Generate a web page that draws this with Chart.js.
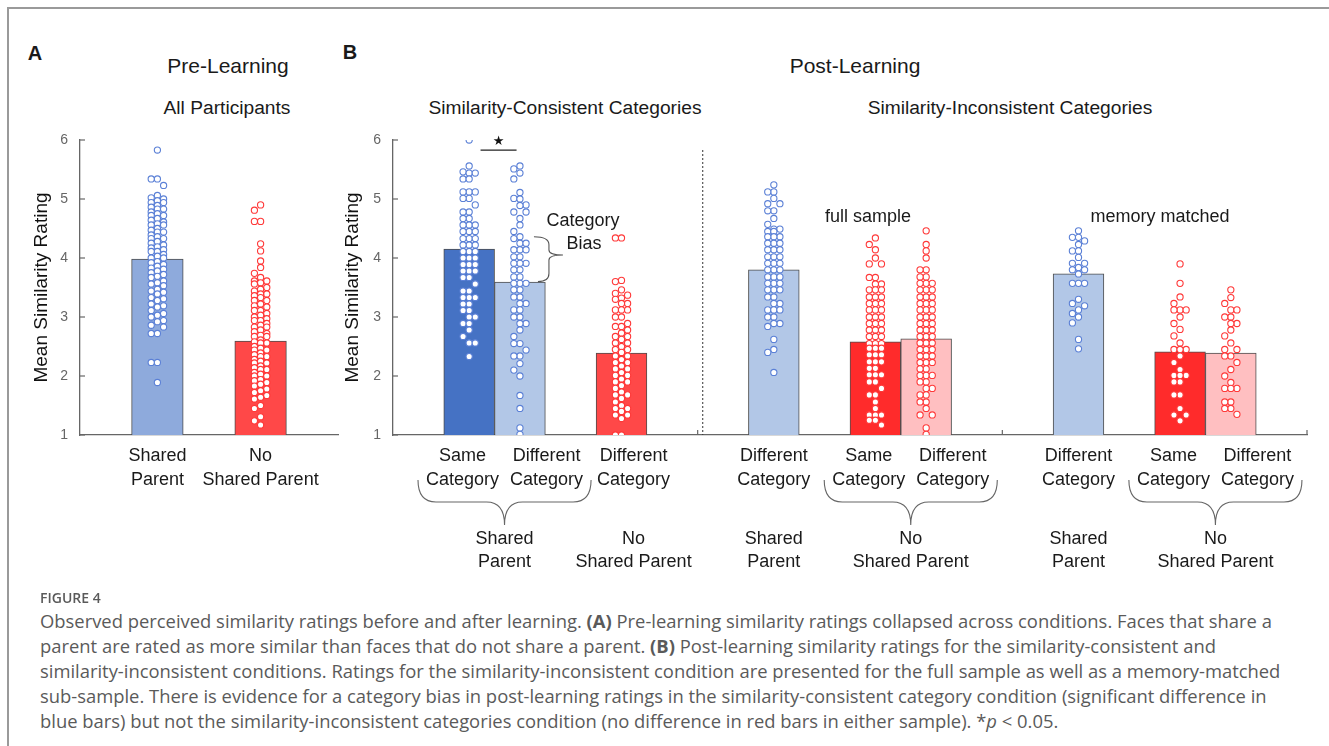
<!DOCTYPE html>
<html lang="en">
<head>
  <meta charset="UTF-8" />
  <title>Figure 4</title>
  <script src="https://cdn.jsdelivr.net/npm/chart.js"></script>
  <style>
    body { margin: 0; background: #fff; }
    #page {
      position: relative; width: 1329px; height: 746px; overflow: hidden;
      font-family: 'Liberation Sans', Arial, sans-serif; color: #1a1a1a;
    }
    .frame {
      position: absolute; left: 7px; top: 7px; width: 1340px; height: 760px;
      border-top: 2px solid #9a9a9a; border-left: 2px solid #9a9a9a;
    }
    .lbl { position: absolute; white-space: nowrap; transform: translate(-50%, -50%); line-height: 1; }
    .panel { font-weight: bold; font-size: 20px; }
    .title { font-size: 21px; }
    .sub { font-size: 19.2px; }
    .note { font-size: 18px; }
    canvas { position: absolute; }
    .cap-head {
      position: absolute; left: 40px; top: 590px; font-family: 'Open Sans', sans-serif;
      font-size: 14px; line-height: 16px; color: #5a5a5a; font-weight: 600;
    }
    .cap {
      position: absolute; left: 40px; top: 608px; font-family: 'Open Sans', sans-serif;
      font-size: 18.4px; line-height: 25px; color: #5a5a5a; white-space: nowrap;
    }
  </style>
</head>
<body>
<div id="page">
  <div class="frame"></div>

  <div class="lbl panel" style="left:35px; top:53px;">A</div>
  <div class="lbl panel" style="left:350px; top:52px;">B</div>
  <div class="lbl title" style="left:228px; top:65px;">Pre-Learning</div>
  <div class="lbl title" style="left:855px; top:65px;">Post-Learning</div>
  <div class="lbl sub" style="left:227px; top:108px;">All Participants</div>
  <div class="lbl sub" style="left:565px; top:108px;">Similarity-Consistent Categories</div>
  <div class="lbl sub" style="left:1010px; top:108px;">Similarity-Inconsistent Categories</div>

  <canvas id="chartA" width="345" height="480" style="left:0; top:110px;"></canvas>
  <canvas id="chartB" width="999" height="480" style="left:330px; top:110px;"></canvas>

  <div class="lbl note" style="left:868px; top:216px;">full sample</div>
  <div class="lbl note" style="left:1160px; top:216px;">memory matched</div>
  <div class="lbl note" style="left:583px; top:220px;">Category</div>
  <div class="lbl note" style="left:584px; top:243px;">Bias</div>

  <div class="cap-head">FIGURE 4</div>
  <div class="cap">
    <div>Observed perceived similarity ratings before and after learning. <b>(A)</b> Pre-learning similarity ratings collapsed across conditions. Faces that share a</div>
    <div>parent are rated as more similar than faces that do not share a parent. <b>(B)</b> Post-learning similarity ratings for the similarity-consistent and</div>
    <div>similarity-inconsistent conditions. Ratings for the similarity-inconsistent condition are presented for the full sample as well as a memory-matched</div>
    <div>sub-sample. There is evidence for a category bias in post-learning ratings in the similarity-consistent category condition (significant difference in</div>
    <div>blue bars) but not the similarity-inconsistent categories condition (no difference in red bars in either sample). *<i>p</i> &lt; 0.05.</div>
  </div>
</div>

<script>
  // ---- data ----
  const yTicks = [1, 2, 3, 4, 5, 6];

  // panel A: pre-learning
  const preLabels = ['', ['Shared', 'Parent'], '', ['No', 'Shared Parent'], ''];
  const preMeans = [null, 3.98, null, 2.59, null];
  const preShared = [5.83, 5.34, 5.34, 5.23, 5.06, 5.02, 5.0, 4.97, 4.94, 4.94, 4.89, 4.86, 4.83, 4.83,
    4.78, 4.75, 4.72, 4.72, 4.67, 4.64, 4.61, 4.58, 4.56, 4.56, 4.5, 4.47, 4.44, 4.44, 4.39, 4.36,
    4.33, 4.33, 4.28, 4.25, 4.22, 4.19, 4.17, 4.14, 4.11, 4.11, 4.06, 4.03, 4.0, 4.0, 3.94, 3.92,
    3.89, 3.86, 3.83, 3.81, 3.78, 3.75, 3.72, 3.69, 3.67, 3.61, 3.58, 3.56, 3.53, 3.47, 3.44, 3.42,
    3.39, 3.33, 3.31, 3.28, 3.22, 3.19, 3.17, 3.11, 3.06, 3.03, 3.0, 2.94, 2.92, 2.86, 2.83,
    2.72, 2.72, 2.23, 2.23, 1.89];
  const preNoShared = [4.9, 4.81, 4.62, 4.62, 4.24, 4.12, 3.95, 3.84, 3.74, 3.67, 3.61, 3.61, 3.58,
    3.56, 3.5, 3.47, 3.44, 3.39, 3.39, 3.36, 3.33, 3.28, 3.28, 3.22, 3.19, 3.17, 3.11, 3.11, 3.06,
    3.03, 3.0, 2.97, 2.94, 2.94, 2.89, 2.86, 2.83, 2.83, 2.78, 2.75, 2.72, 2.69, 2.67, 2.67, 2.61,
    2.58, 2.56, 2.56, 2.5, 2.47, 2.44, 2.44, 2.39, 2.36, 2.33, 2.33, 2.28, 2.25, 2.22, 2.22, 2.17,
    2.14, 2.11, 2.11, 2.06, 2.03, 2.0, 2.0, 1.94, 1.92, 1.89, 1.86, 1.83, 1.78, 1.75, 1.72, 1.67,
    1.64, 1.61, 1.5, 1.45, 1.31, 1.24, 1.17];

  // panel B: post-learning (18 slots, blanks are gaps)
  const postLabels = ['', ['Same', 'Category'], ['Different', 'Category'], '', ['Different', 'Category'], '',
    '', ['Different', 'Category'], '', ['Same', 'Category'], ['Different', 'Category'], '',
    '', ['Different', 'Category'], '', ['Same', 'Category'], ['Different', 'Category'], ''];
  const postMeans = [null, 4.15, 3.59, null, 2.39, null, null, 3.80, null, 2.58, 2.63, null,
    null, 3.73, null, 2.41, 2.39, null];
  const postGroups = [
    { bars: [1, 2], text: ['Shared', 'Parent'] },
    { bars: [4], text: ['No', 'Shared Parent'] },
    { bars: [7], text: ['Shared', 'Parent'] },
    { bars: [9, 10], text: ['No', 'Shared Parent'] },
    { bars: [13], text: ['Shared', 'Parent'] },
    { bars: [15, 16], text: ['No', 'Shared Parent'] }
  ];

  const consSame = [6.0, 5.56, 5.46, 5.44, 5.44, 5.34, 5.34, 5.12, 5.12, 5.12, 5.01, 5.01, 4.9, 4.78,
    4.78, 4.67, 4.67, 4.56, 4.56, 4.56, 4.45, 4.45, 4.45, 4.33, 4.33, 4.33, 4.22, 4.22, 4.22, 4.11,
    4.11, 4.11, 4.0, 4.0, 4.0, 3.89, 3.89, 3.89, 3.78, 3.78, 3.78, 3.67, 3.67, 3.56, 3.44, 3.44,
    3.33, 3.33, 3.33, 3.22, 3.22, 3.11, 3.11, 3.0, 3.0, 2.89, 2.89, 2.78, 2.67, 2.56, 2.56, 2.33];
  const consDiff = [5.56, 5.51, 5.44, 5.34, 5.11, 5.01, 5.0, 4.9, 4.89, 4.78, 4.78, 4.67, 4.56, 4.45,
    4.36, 4.33, 4.25, 4.25, 4.14, 4.14, 4.14, 4.02, 4.02, 3.91, 3.91, 3.91, 3.8, 3.8, 3.68, 3.68,
    3.57, 3.57, 3.57, 3.46, 3.46, 3.34, 3.34, 3.23, 3.23, 3.12, 3.12, 3.0, 3.0, 2.89, 2.89, 2.78,
    2.67, 2.55, 2.55, 2.44, 2.34, 2.34, 2.21, 2.1, 2.0, 1.67, 1.45, 1.12, 1.01];
  const consNoParent = [4.34, 4.34, 3.62, 3.6, 3.46, 3.4, 3.37, 3.32, 3.3, 3.23, 3.23, 3.12, 3.12, 3.12,
    3.0, 3.0, 2.89, 2.84, 2.84, 2.78, 2.73, 2.67, 2.67, 2.62, 2.56, 2.56, 2.5, 2.45, 2.45, 2.4, 2.34,
    2.34, 2.28, 2.23, 2.23, 2.17, 2.12, 2.12, 2.06, 2.01, 2.01, 1.95, 1.9, 1.9, 1.84, 1.79, 1.73,
    1.68, 1.68, 1.62, 1.56, 1.5, 1.45, 1.45, 1.4, 1.34, 1.34, 1.28, 1.0, 1.0];
  const fullShared = [5.24, 5.12, 5.12, 5.01, 4.92, 4.92, 4.8, 4.8, 4.67, 4.57, 4.49, 4.49, 4.45, 4.45,
    4.36, 4.36, 4.36, 4.25, 4.25, 4.25, 4.14, 4.14, 4.14, 4.02, 4.02, 4.02, 3.91, 3.91, 3.91, 3.8,
    3.8, 3.8, 3.68, 3.68, 3.68, 3.57, 3.57, 3.57, 3.46, 3.46, 3.46, 3.34, 3.34, 3.23, 3.23, 3.12,
    3.12, 3.12, 3.0, 3.0, 2.89, 2.89, 2.84, 2.62, 2.45, 2.4, 2.06];
  const fullSame = [4.34, 4.23, 4.14, 4.0, 3.9, 3.9, 3.67, 3.67, 3.56, 3.56, 3.46, 3.46, 3.46, 3.34,
    3.34, 3.34, 3.23, 3.23, 3.23, 3.12, 3.12, 3.12, 3.0, 3.0, 3.0, 2.89, 2.89, 2.89, 2.78, 2.78, 2.78,
    2.67, 2.67, 2.67, 2.55, 2.55, 2.55, 2.47, 2.47, 2.47, 2.36, 2.36, 2.36, 2.24, 2.24, 2.24, 2.13,
    2.13, 2.02, 2.02, 2.02, 1.9, 1.9, 1.79, 1.68, 1.68, 1.56, 1.45, 1.34, 1.34, 1.34, 1.25, 1.25, 1.17];
  const fullDiff = [4.46, 4.23, 4.12, 4.0, 3.8, 3.8, 3.68, 3.68, 3.57, 3.57, 3.57, 3.46, 3.46, 3.46,
    3.34, 3.34, 3.34, 3.23, 3.23, 3.23, 3.12, 3.12, 3.12, 3.0, 3.0, 3.0, 2.89, 2.89, 2.89, 2.78, 2.78,
    2.78, 2.67, 2.67, 2.67, 2.56, 2.56, 2.56, 2.45, 2.45, 2.45, 2.34, 2.34, 2.34, 2.23, 2.23, 2.23,
    2.12, 2.12, 2.01, 2.01, 2.01, 1.9, 1.9, 1.79, 1.79, 1.68, 1.68, 1.56, 1.56, 1.45, 1.34, 1.34,
    1.12, 1.01];
  const memShared = [4.46, 4.35, 4.35, 4.29, 4.23, 4.12, 4.12, 4.01, 3.91, 3.91, 3.84, 3.8, 3.8, 3.73,
    3.57, 3.57, 3.57, 3.3, 3.23, 3.19, 3.12, 3.06, 3.0, 2.9, 2.62, 2.46];
  const memSame = [3.9, 3.57, 3.34, 3.23, 3.12, 3.12, 3.12, 3.0, 2.89, 2.79, 2.68, 2.56, 2.45, 2.45,
    2.45, 2.34, 2.23, 2.11, 2.01, 2.01, 2.01, 1.9, 1.9, 1.68, 1.68, 1.45, 1.34, 1.34, 1.24];
  const memDiff = [3.46, 3.33, 3.23, 3.12, 3.12, 3.0, 3.0, 2.89, 2.89, 2.78, 2.68, 2.56, 2.45, 2.45,
    2.34, 2.34, 2.23, 2.11, 2.0, 1.89, 1.79, 1.79, 1.79, 1.56, 1.56, 1.45, 1.45, 1.35];

  // ---- styling ----
  const BLUE_A = '#8eaadc', BLUE_DARK = '#4572c4', BLUE_LIGHT = '#b2c7e7';
  const RED = '#ff4848', RED_BRIGHT = '#ff2b2b', PINK = '#ffbfc1';
  const DOT_BLUE = '#5b80d6', DOT_RED = '#ff3838';
  const labelFont = '18px "Liberation Sans", Arial, sans-serif';

  // pack dots of one bar into three narrow columns (beeswarm-ish)
  function swarm(values, slot) {
    const cols = [0, -1, 1];
    const last = {};
    return values.slice().sort((a, b) => b - a).map(v => {
      let best = 0, bestGap = -1;
      for (const c of cols) {
        const gap = last[c] === undefined ? Infinity : last[c] - v;
        if (gap >= 0.11) { best = c; break; }
        if (gap > bestGap) { best = c; bestGap = gap; }
      }
      last[best] = v;
      return { x: slot + best * 0.12, y: v };
    });
  }

  function dots(values, slot, color) {
    return {
      type: 'scatter', xAxisID: 'xd', data: swarm(values, slot), order: 0,
      pointRadius: 3.1, pointBorderWidth: 1.1,
      pointBackgroundColor: '#fff', pointBorderColor: color
    };
  }

  // spread two-line category labels apart so neighbours do not collide
  function labelCentres(chart) {
    const ctx = chart.ctx, x = chart.scales.x, labels = chart.data.labels;
    ctx.font = labelFont;
    const w = labels.map(l => Array.isArray(l) ? Math.max(...l.map(t => ctx.measureText(t).width)) : 0);
    const cx = labels.map((l, i) => x.getPixelForValue(i));
    for (let i = 0; i < labels.length - 1; i++) {
      if (w[i] && w[i + 1]) {
        const deficit = (w[i] + w[i + 1]) / 2 + 11 - (cx[i + 1] - cx[i]);
        if (deficit > 0) { cx[i] -= deficit * 0.2; cx[i + 1] += deficit * 0.8; i++; }
      }
    }
    let prev = -1;
    labels.forEach((l, i) => {
      if (!w[i]) return;
      if (prev >= 0 && i - prev > 1) {
        const minX = cx[prev] + w[prev] / 2 + 14 + w[i] / 2;
        if (cx[i] < minX) cx[i] = minX;
      }
      prev = i;
    });
    return labels.map((l, i) => ({ x: cx[i], w: w[i] }));
  }

  function brace(ctx, x0, x1, xc, yTop, yMid, yApex) {
    const r = 18;
    ctx.beginPath();
    ctx.moveTo(x0, yTop);
    ctx.quadraticCurveTo(x0, yMid, x0 + r, yMid);
    ctx.lineTo(xc - r, yMid);
    ctx.quadraticCurveTo(xc, yMid, xc, yApex);
    ctx.moveTo(x1, yTop);
    ctx.quadraticCurveTo(x1, yMid, x1 - r, yMid);
    ctx.lineTo(xc + r, yMid);
    ctx.quadraticCurveTo(xc, yMid, xc, yApex);
    ctx.stroke();
  }

  const figureMarks = {
    id: 'figureMarks',
    afterDraw(chart, args, opts) {
      const { ctx, chartArea: area, scales } = chart;
      const y = scales.y, xd = scales.xd;
      const pos = labelCentres(chart);
      ctx.save();

      // inner tick marks on the axes
      ctx.strokeStyle = '#666';
      ctx.lineWidth = 1.2;
      yTicks.forEach(v => {
        const py = y.getPixelForValue(v);
        ctx.beginPath(); ctx.moveTo(area.left, py); ctx.lineTo(area.left + 5, py); ctx.stroke();
      });
      (opts.xTicks || []).forEach(v => {
        const px = xd.getPixelForValue(v);
        ctx.beginPath(); ctx.moveTo(px, area.bottom); ctx.lineTo(px, area.bottom - 5); ctx.stroke();
      });

      // category labels under the bars
      ctx.fillStyle = '#1a1a1a';
      ctx.font = labelFont;
      ctx.textAlign = 'center';
      ctx.textBaseline = 'middle';
      chart.data.labels.forEach((l, i) => {
        if (!Array.isArray(l)) return;
        l.forEach((t, k) => ctx.fillText(t, pos[i].x, area.bottom + 21 + k * 24));
      });

      // parent-level groups with braces
      (opts.groups || []).forEach(g => {
        const a = g.bars[0], b = g.bars[g.bars.length - 1];
        let xc = pos[a].x;
        if (a !== b) {
          xc = (pos[a].x + pos[b].x) / 2;
          ctx.strokeStyle = '#666';
          ctx.lineWidth = 1.1;
          brace(ctx, pos[a].x - pos[a].w / 2 - 8, pos[b].x + pos[b].w / 2 + 8, xc,
            area.bottom + 45, area.bottom + 67, area.bottom + 90);
        }
        ctx.fillStyle = '#1a1a1a';
        g.text.forEach((t, k) => ctx.fillText(t, xc, area.bottom + 104 + k * 23));
      });

      // dotted separator between the two conditions
      if (opts.divider !== undefined) {
        const px = xd.getPixelForValue(opts.divider);
        ctx.strokeStyle = '#333';
        ctx.lineWidth = 1;
        ctx.setLineDash([2, 2]);
        ctx.beginPath(); ctx.moveTo(px, area.top + 10); ctx.lineTo(px, area.bottom); ctx.stroke();
        ctx.setLineDash([]);
      }

      // significance marker and category-bias bracket
      if (opts.sig) {
        const s = opts.sig;
        const mid = (xd.getPixelForValue(s.bars[0]) + xd.getPixelForValue(s.bars[1])) / 2 + 4;
        const py = y.getPixelForValue(s.level);
        ctx.strokeStyle = '#222';
        ctx.lineWidth = 1.3;
        ctx.beginPath(); ctx.moveTo(mid - 18, py); ctx.lineTo(mid + 18, py); ctx.stroke();
        ctx.fillStyle = '#111';
        ctx.font = '13px "DejaVu Sans", sans-serif';
        ctx.fillText('\u2605', mid, py - 8);
      }
      if (opts.bias) {
        const bx = xd.getPixelForValue(opts.bias.bar);
        const xL = bx + 14, xM = bx + 29, xR = bx + 43;
        const yT = y.getPixelForValue(opts.bias.top), yB = y.getPixelForValue(opts.bias.bottom);
        const yP = y.getPixelForValue(opts.bias.tip);
        ctx.strokeStyle = '#555';
        ctx.lineWidth = 1.1;
        ctx.beginPath();
        ctx.moveTo(xL, yT);
        ctx.quadraticCurveTo(xM, yT, xM, yT + 8);
        ctx.lineTo(xM, yP - 5);
        ctx.quadraticCurveTo(xM, yP, xR, yP);
        ctx.quadraticCurveTo(xM, yP, xM, yP + 5);
        ctx.lineTo(xM, yB - 8);
        ctx.quadraticCurveTo(xM, yB, xL + 4, yB);
        ctx.stroke();
      }
      ctx.restore();
    }
  };

  function makeOptions(n, yWidth, titlePad, rightPad, marks) {
    return {
      responsive: false,
      animation: false,
      events: [],
      layout: { padding: { top: 30, right: rightPad, left: 0, bottom: 0 } },
      plugins: { legend: { display: false }, tooltip: { enabled: false }, figureMarks: marks },
      scales: {
        x: {
          type: 'category', offset: true,
          grid: { display: false, drawTicks: false },
          border: { color: '#666', width: 1.3 },
          ticks: { display: false },
          afterFit: s => { s.height = 155; }
        },
        xd: { type: 'linear', display: false, offset: false, min: -0.5, max: n - 0.5 },
        y: {
          min: 1, max: 6,
          grid: { display: false, drawTicks: false },
          border: { color: '#666', width: 1.3 },
          ticks: { stepSize: 1, padding: 12, color: '#666', font: { size: 14, family: 'Liberation Sans' } },
          title: {
            display: true, text: 'Mean Similarity Rating', color: '#111',
            font: { size: 19, family: 'Liberation Sans' }, padding: { top: titlePad, bottom: 0 }
          },
          afterFit: s => { s.width = yWidth; }
        }
      }
    };
  }

  function barSet(means, colors) {
    return {
      type: 'bar', xAxisID: 'x', data: means, order: 10, grouped: false,
      backgroundColor: colors, borderColor: '#4d4d4d', borderWidth: 1,
      barPercentage: 1, categoryPercentage: 1
    };
  }

  new Chart(document.getElementById('chartA'), {
    type: 'bar',
    data: {
      labels: preLabels,
      datasets: [
        dots(preShared, 1, DOT_BLUE),
        dots(preNoShared, 3, DOT_RED),
        barSet(preMeans, [null, BLUE_A, null, RED, null])
      ]
    },
    options: makeOptions(preLabels.length, 80, 30, 7, {}),
    plugins: [figureMarks]
  });

  new Chart(document.getElementById('chartB'), {
    type: 'bar',
    data: {
      labels: postLabels,
      datasets: [
        dots(consSame, 1, DOT_BLUE),
        dots(consDiff, 2, DOT_BLUE),
        dots(consNoParent, 4, DOT_RED),
        dots(fullShared, 7, DOT_BLUE),
        dots(fullSame, 9, DOT_RED),
        dots(fullDiff, 10, DOT_RED),
        dots(memShared, 13, DOT_BLUE),
        dots(memSame, 15, DOT_RED),
        dots(memDiff, 16, DOT_RED),
        barSet(postMeans, [null, BLUE_DARK, BLUE_LIGHT, null, RED, null, null, BLUE_LIGHT, null,
          RED_BRIGHT, PINK, null, null, BLUE_LIGHT, null, RED_BRIGHT, PINK, null])
      ]
    },
    options: makeOptions(postLabels.length, 63, 11, 22, {
      groups: postGroups,
      xTicks: [5.5, 11.5, 17.5],
      divider: 5.6,
      sig: { bars: [1, 2], level: 5.83 },
      bias: { bar: 2, top: 4.36, tip: 4.05, bottom: 3.6 }
    }),
    plugins: [figureMarks]
  });
</script>
</body>
</html>
